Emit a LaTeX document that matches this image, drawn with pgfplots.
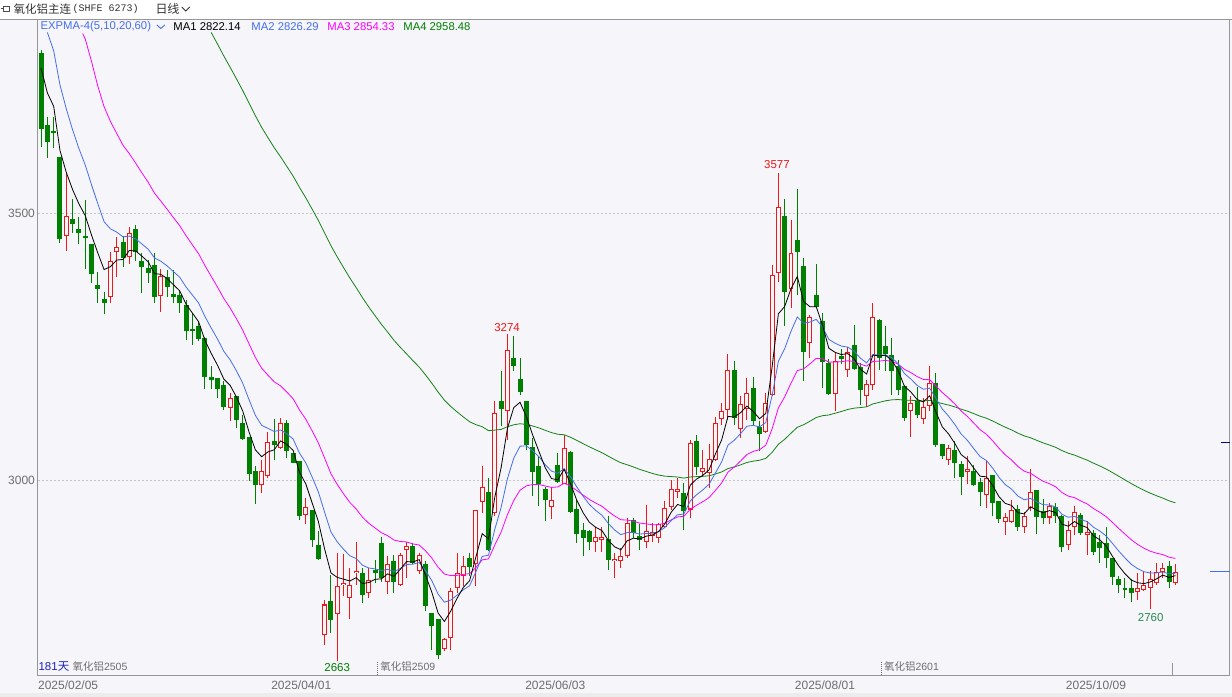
\documentclass[border=0pt]{standalone}
\usepackage{fontspec}
\setmainfont{Liberation Sans}
\newfontfamily\cjk{Noto Sans CJK SC}
\newfontfamily\mono{Liberation Mono}
\usepackage{pgfplots}
\usepackage{pgfplotstable}
\pgfplotsset{compat=1.18}
\definecolor{bg}{RGB}{245,245,250}
\definecolor{cgreen}{RGB}{0,128,0}
\definecolor{cred}{RGB}{235,25,25}
\definecolor{ma2}{RGB}{70,110,235}
\definecolor{ma3}{RGB}{255,0,255}
\definecolor{ma4}{RGB}{20,130,20}
\definecolor{axgray}{RGB}{150,150,150}
\definecolor{txtgray}{RGB}{110,110,110}
\definecolor{dkblue}{RGB}{30,30,200}
\definecolor{navyc}{RGB}{0,0,128}
\definecolor{lowgreen}{RGB}{40,140,80}

\pgfplotstableread{
i o h l c
4 3459 3576 3431 3496
11 3345 3429 3333 3412
12 3428 3456 3381 3438
14 3419 3476 3406 3465
19 3346 3396 3317 3384
30 3136 3165 3111 3155
35 2991 3039 2976 3019
36 3009 3092 3005 3072
38 3061 3117 3059 3108
42 2936 2968 2919 2951
45 2710 2777 2693 2768
47 2750 2865 2663 2802
48 2805 2863 2783 2809
49 2780 2836 2740 2805
50 2827 2886 2805 2831
52 2790 2836 2780 2813
55 2810 2858 2787 2844
57 2804 2864 2802 2861
58 2871 2886 2818 2877
60 2830 2865 2825 2861
64 2685 2706 2680 2704
65 2705 2799 2683 2794
66 2799 2865 2790 2827
67 2821 2858 2802 2841
69 2843 2946 2802 2946
70 2960 3028 2940 2988
72 2940 3149 2933 3127
74 3130 3274 3077 3245
81 2951 2989 2929 2963
83 2993 3086 2993 3061
88 2886 2914 2867 2894
89 2889 2914 2867 2894
91 2849 2865 2818 2853
92 2850 2874 2836 2859
93 2858 2930 2856 2921
96 2886 2955 2874 2906
97 2897 2920 2885 2903
98 2893 2921 2883 2918
99 2914 2961 2912 2949
100 2951 3002 2946 2984
101 2979 3005 2968 2984
103 2946 3077 2930 3071
105 3017 3058 3008 3024
106 3014 3069 2986 3041
107 3039 3120 3036 3109
108 3116 3146 3105 3130
109 3133 3238 3114 3208
111 3097 3158 3080 3144
112 3134 3192 3114 3164
115 3092 3164 3089 3146
116 3161 3404 3158 3386
117 3389 3577 3373 3513
119 3359 3489 3323 3426
122 3258 3311 3230 3307
126 3162 3242 3130 3225
128 3208 3251 3195 3242
131 3158 3189 3139 3181
132 3180 3333 3170 3307
138 3130 3158 3082 3146
140 3116 3155 3107 3138
141 3140 3214 3130 3183
144 3039 3067 3030 3061
147 3016 3046 2993 3022
150 2974 3036 2949 3005
153 2922 2940 2899 2932
154 2922 2963 2921 2946
156 2914 2942 2902 2933
157 2949 3021 2943 2978
160 2931 2958 2919 2952
163 2880 2924 2871 2907
164 2914 2953 2899 2941
166 2899 2924 2860 2904
174 2792 2827 2777 2799
175 2795 2830 2794 2804
176 2799 2830 2760 2816
177 2808 2845 2805 2828
178 2828 2845 2817 2837
180 2808 2843 2805 2829
}\redtbl

\pgfplotstableread{
i o h l c
0 3801 3807 3626 3659
1 3667 3682 3604 3634
2 3656 3682 3623 3651
3 3606 3606 3445 3453
5 3490 3528 3464 3481
6 3472 3495 3444 3465
7 3459 3526 3396 3454
8 3444 3444 3371 3387
9 3366 3392 3333 3360
10 3340 3354 3313 3333
13 3448 3458 3401 3417
15 3472 3479 3411 3429
16 3411 3426 3351 3401
17 3399 3414 3370 3389
18 3404 3426 3333 3344
20 3381 3395 3345 3363
21 3350 3395 3333 3344
22 3348 3358 3314 3333
23 3330 3339 3264 3281
24 3284 3314 3255 3281
25 3290 3298 3261 3265
26 3267 3270 3172 3194
27 3195 3214 3172 3189
28 3192 3192 3155 3172
29 3180 3186 3133 3139
31 3158 3158 3099 3113
32 3109 3124 3077 3078
33 3082 3082 2999 3013
34 3019 3027 2957 2991
37 3075 3115 3039 3066
39 3109 3114 3042 3055
40 3051 3051 3033 3034
41 3036 3036 2926 2934
43 2946 2946 2876 2888
44 2880 2905 2852 2853
46 2774 2824 2715 2738
51 2827 2836 2771 2785
53 2833 2851 2808 2827
54 2883 2895 2810 2818
56 2850 2861 2790 2811
59 2877 2883 2843 2846
61 2843 2849 2755 2765
62 2752 2752 2683 2727
63 2740 2740 2666 2674
68 2855 2865 2821 2838
71 2979 3005 2868 2871
73 3149 3206 3102 3134
75 3230 3272 3205 3215
76 3190 3230 3161 3167
77 3149 3149 3058 3067
78 3064 3080 2971 3017
79 3028 3046 2952 2993
80 2985 2989 2924 2963
82 3030 3051 2996 2997
84 3053 3055 2940 2942
85 2947 2964 2883 2901
86 2908 2921 2858 2893
87 2905 2908 2871 2886
90 2890 2933 2833 2852
94 2926 2930 2893 2902
95 2896 2918 2871 2888
102 2976 2996 2908 2944
104 3075 3086 3011 3026
110 3208 3225 3105 3117
113 3174 3194 3105 3111
114 3101 3111 3055 3088
118 3496 3528 3289 3354
120 3451 3546 3348 3428
121 3403 3417 3186 3242
123 3348 3406 3325 3326
124 3300 3314 3174 3222
125 3220 3228 3161 3162
127 3233 3246 3218 3228
129 3255 3292 3208 3210
130 3213 3220 3142 3170
133 3302 3303 3208 3230
134 3253 3289 3205 3238
135 3236 3267 3161 3205
136 3214 3227 3161 3170
137 3177 3180 3111 3117
139 3150 3176 3117 3124
142 3183 3202 3064 3067
143 3069 3069 3040 3046
145 3058 3074 3005 3034
146 3032 3036 2974 3007
148 3019 3030 2990 2991
149 2997 3005 2953 2978
151 3010 3011 2933 2959
152 2961 2961 2921 2928
155 2947 2955 2905 2913
158 2982 2983 2901 2932
159 2943 2965 2918 2930
161 2950 2958 2921 2933
162 2933 2936 2866 2875
165 2935 2940 2899 2902
167 2902 2908 2861 2866
168 2886 2899 2846 2874
169 2883 2914 2836 2855
170 2855 2855 2805 2820
171 2816 2821 2790 2804
172 2799 2818 2780 2796
173 2799 2815 2772 2790
179 2841 2850 2799 2810
}\greentbl

\begin{document}
\begin{tikzpicture}
\begin{scope}[x=1pt,y=1pt]
\path[use as bounding box] (0,0) rectangle (1232,697);
\fill[bg] (0,0) rectangle (1232,697);
\fill[white] (0,678) rectangle (1232,697);
\fill[gray!15] (0,0) rectangle (1232,4);
\end{scope}
\begin{axis}[
  at={(37.3pt,21pt)}, anchor=south west,
  width=1192.7pt, height=657pt, scale only axis,
  xmin=-0.54, xmax=188.6, ymin=2634.8, ymax=3865.2,
  axis line style={draw=axgray, line width=0.8pt},
  major tick length=0pt,
  ytick={3000,3500}, yticklabels={3000,3500},
  xtick={-0.5,36.5,76.8,119.6,162.6},
  xticklabels={2025/02/05,2025/04/01,2025/06/03,2025/08/01,2025/10/09},
  ymajorgrids,
  grid style={draw=gray!45, dash pattern=on 2pt off 2pt, line width=0.8pt},
  tick label style={font=\fontsize{12}{14}\selectfont, text=txtgray},
  xticklabel style={anchor=north west, inner sep=0pt, yshift=-5.5pt},
  yticklabel style={anchor=east, inner sep=0pt, xshift=-2.6pt},
  axis background/.style={fill=bg},
]
% green wicks and bodies
\addplot[draw=none, mark=none, forget plot,
  error bars/.cd, y dir=plus, y explicit, error mark=none,
  error bar style={draw=cgreen, line width=1pt}]
  table[x=i, y=l, y error plus expr=\thisrow{h}-\thisrow{l}] {\greentbl};
\addplot[draw=none, mark=none, forget plot,
  error bars/.cd, y dir=plus, y explicit, error mark=none,
  error bar style={draw=cgreen, line width=5pt}]
  table[x=i, y=c, y error plus expr=\thisrow{o}-\thisrow{c}] {\greentbl};
% red wicks and hollow bodies
\addplot[draw=none, mark=none, forget plot,
  error bars/.cd, y dir=plus, y explicit, error mark=none,
  error bar style={draw=cred, line width=1pt}]
  table[x=i, y=l, y error plus expr=\thisrow{h}-\thisrow{l}] {\redtbl};
\addplot[draw=none, mark=none, forget plot,
  error bars/.cd, y dir=plus, y explicit, error mark=none,
  error bar style={draw=cred, line width=5pt}]
  table[x=i, y=o, y error plus expr=\thisrow{c}-\thisrow{o}] {\redtbl};
\addplot[draw=none, mark=none, forget plot,
  error bars/.cd, y dir=plus, y explicit, error mark=none,
  error bar style={draw=bg, line width=3pt}]
  table[x=i, y expr=\thisrow{o}+1.9, y error plus expr=\thisrow{c}-\thisrow{o}-3.8] {\redtbl};

% MA4 (EXPMA 60)
\addplot[ma4, line width=0.8pt, mark=none] coordinates {
(27,3840) (28,3818.1) (29,3795.8) (30,3774.8) (31,3753.1) (32,3731.0) (33,3707.5) (34,3684.0) (35,3662.2) (36,3642.8)
(37,3623.9) (38,3607.0) (39,3588.9) (40,3570.7) (41,3549.8) (42,3530.2) (43,3509.1) (44,3487.6) (45,3464.0) (46,3440.2)
(47,3419.3) (48,3399.3) (49,3379.8) (50,3361.8) (51,3342.9) (52,3325.5) (53,3309.2) (54,3293.1) (55,3278.4) (56,3263.1)
(57,3249.9) (58,3237.7) (59,3224.9) (60,3213.0) (61,3198.3) (62,3182.8) (63,3166.1) (64,3150.9) (65,3139.2) (66,3129.0)
(67,3119.6) (68,3110.4) (69,3105.0) (70,3101.2) (71,3093.7) (72,3094.8) (73,3096.1) (74,3101.0) (75,3104.7) (76,3106.7)
(77,3105.4) (78,3102.5) (79,3098.9) (80,3094.4) (81,3090.1) (82,3087.0) (83,3086.1) (84,3081.4) (85,3075.5) (86,3069.5)
(87,3063.5) (88,3057.9) (89,3052.5) (90,3045.9) (91,3039.5) (92,3033.6) (93,3029.9) (94,3025.7) (95,3021.2) (96,3017.4)
(97,3013.6) (98,3010.5) (99,3008.5) (100,3007.7) (101,3006.9) (102,3004.8) (103,3007.0) (104,3007.6) (105,3008.1) (106,3009.2)
(107,3012.5) (108,3016.4) (109,3022.7) (110,3025.8) (111,3029.7) (112,3034.1) (113,3036.6) (114,3038.3) (115,3041.8) (116,3053.1)
(117,3068.2) (118,3077.6) (119,3089.0) (120,3100.1) (121,3104.8) (122,3111.4) (123,3118.4) (124,3121.8) (125,3123.1) (126,3126.4)
(127,3129.7) (128,3133.4) (129,3135.9) (130,3137.0) (131,3138.4) (132,3143.9) (133,3146.7) (134,3149.7) (135,3151.5) (136,3152.1)
(137,3150.9) (138,3150.7) (139,3149.8) (140,3149.4) (141,3150.5) (142,3147.8) (143,3144.5) (144,3141.8) (145,3138.3) (146,3134.0)
(147,3130.3) (148,3125.7) (149,3120.9) (150,3117.1) (151,3111.9) (152,3105.9) (153,3100.2) (154,3095.1) (155,3089.1) (156,3084.0)
(157,3080.5) (158,3075.6) (159,3070.8) (160,3066.9) (161,3062.5) (162,3056.4) (163,3051.5) (164,3047.9) (165,3043.1) (166,3038.5)
(167,3032.8) (168,3027.6) (169,3021.9) (170,3015.3) (171,3008.4) (172,3001.4) (173,2994.5) (174,2988.1) (175,2982.1) (176,2976.7)
(177,2971.8) (178,2967.4) (179,2962.2) (180,2958.5)
};
% MA3 (EXPMA 20)
\addplot[ma3, line width=0.8pt, mark=none] coordinates {
(6.6,3838) (7,3828.0) (8,3786.0) (9,3739.6) (10,3700.8) (11,3673.3) (12,3650.8) (13,3628.5) (14,3612.9) (15,3595.3)
(16,3576.8) (17,3559.2) (18,3538.7) (19,3524.0) (20,3508.7) (21,3493.0) (22,3477.8) (23,3459.1) (24,3442.1) (25,3425.2)
(26,3403.2) (27,3382.8) (28,3362.7) (29,3341.4) (30,3323.6) (31,3303.5) (32,3282.0) (33,3256.4) (34,3231.1) (35,3210.9)
(36,3197.7) (37,3185.2) (38,3177.8) (39,3166.1) (40,3153.5) (41,3132.6) (42,3115.3) (43,3093.7) (44,3070.8) (45,3042.0)
(46,3013.0) (47,2992.9) (48,2975.4) (49,2959.2) (50,2947.0) (51,2931.6) (52,2920.3) (53,2911.4) (54,2902.5) (55,2896.9)
(56,2888.7) (57,2886.1) (58,2885.2) (59,2881.5) (60,2879.5) (61,2868.6) (62,2855.1) (63,2837.9) (64,2825.1) (65,2822.1)
(66,2822.6) (67,2824.4) (68,2825.7) (69,2837.2) (70,2851.6) (71,2853.4) (72,2879.5) (73,2903.7) (74,2936.2) (75,2962.8)
(76,2982.2) (77,2990.3) (78,2992.8) (79,2992.8) (80,2990.0) (81,2987.4) (82,2988.3) (83,2995.2) (84,2990.1) (85,2981.6)
(86,2973.2) (87,2964.9) (88,2958.1) (89,2952.0) (90,2942.5) (91,2933.9) (92,2926.8) (93,2926.2) (94,2923.9) (95,2920.5)
(96,2919.1) (97,2917.6) (98,2917.6) (99,2920.6) (100,2926.6) (101,2932.1) (102,2933.2) (103,2946.3) (104,2953.9) (105,2960.6)
(106,2968.3) (107,2981.7) (108,2995.8) (109,3016.0) (110,3025.6) (111,3036.9) (112,3049.0) (113,3054.9) (114,3058.1) (115,3066.5)
(116,3096.9) (117,3136.5) (118,3157.2) (119,3182.8) (120,3206.2) (121,3209.6) (122,3218.9) (123,3229.1) (124,3228.4) (125,3222.1)
(126,3222.4) (127,3222.9) (128,3224.7) (129,3223.3) (130,3218.2) (131,3214.7) (132,3223.5) (133,3224.1) (134,3225.4) (135,3223.5)
(136,3218.4) (137,3208.7) (138,3202.7) (139,3195.2) (140,3189.8) (141,3189.2) (142,3177.6) (143,3165.1) (144,3155.2) (145,3143.7)
(146,3130.7) (147,3120.3) (148,3108.0) (149,3095.6) (150,3087.0) (151,3074.8) (152,3060.8) (153,3048.5) (154,3038.7) (155,3026.7)
(156,3017.8) (157,3014.0) (158,3006.2) (159,2998.9) (160,2994.4) (161,2988.6) (162,2977.8) (163,2971.1) (164,2968.2) (165,2961.9)
(166,2956.4) (167,2947.8) (168,2940.8) (169,2932.6) (170,2921.9) (171,2910.7) (172,2899.8) (173,2889.3) (174,2880.7) (175,2873.4)
(176,2867.9) (177,2864.1) (178,2861.5) (179,2856.6) (180,2854.3)
};
% MA2 (EXPMA 10)
\addplot[ma2, line width=0.8pt, mark=none] coordinates {
(1,3840) (2,3805.6) (3,3741.5) (4,3696.9) (5,3657.6) (6,3622.6) (7,3591.9) (8,3554.6) (9,3519.2) (10,3485.3)
(11,3472.0) (12,3465.8) (13,3456.9) (14,3458.4) (15,3453.1) (16,3443.6) (17,3433.7) (18,3417.4) (19,3411.3) (20,3402.5)
(21,3391.9) (22,3381.2) (23,3363.0) (24,3348.1) (25,3333.0) (26,3307.7) (27,3286.1) (28,3265.4) (29,3242.4) (30,3226.5)
(31,3205.9) (32,3182.6) (33,3151.8) (34,3122.6) (35,3103.8) (36,3098.0) (37,3092.2) (38,3095.1) (39,3087.8) (40,3078.0)
(41,3051.8) (42,3033.5) (43,3007.0) (44,2979.0) (45,2940.6) (46,2903.8) (47,2885.3) (48,2871.4) (49,2859.3) (50,2854.2)
(51,2841.6) (52,2836.4) (53,2834.7) (54,2831.7) (55,2833.9) (56,2829.7) (57,2835.4) (58,2843.0) (59,2843.5) (60,2846.7)
(61,2831.8) (62,2812.7) (63,2787.5) (64,2772.3) (65,2776.2) (66,2785.4) (67,2795.5) (68,2803.2) (69,2829.2) (70,2858.1)
(71,2860.4) (72,2908.9) (73,2949.8) (74,3003.5) (75,3042.0) (76,3064.7) (77,3065.1) (78,3056.4) (79,3044.9) (80,3030.0)
(81,3017.8) (82,3014.0) (83,3022.5) (84,3007.9) (85,2988.5) (86,2971.1) (87,2955.6) (88,2944.4) (89,2935.2) (90,2920.1)
(91,2907.7) (92,2898.8) (93,2902.8) (94,2902.7) (95,2900.0) (96,2901.1) (97,2901.4) (98,2904.4) (99,2912.5) (100,2925.5)
(101,2936.1) (102,2937.5) (103,2961.8) (104,2973.5) (105,2982.7) (106,2993.3) (107,3014.3) (108,3035.3) (109,3066.7) (110,3075.8)
(111,3088.2) (112,3102.0) (113,3103.6) (114,3100.8) (115,3109.0) (116,3159.4) (117,3223.7) (118,3247.4) (119,3279.9) (120,3306.8)
(121,3295.0) (122,3297.2) (123,3302.4) (124,3287.8) (125,3264.9) (126,3257.6) (127,3252.2) (128,3250.3) (129,3243.0) (130,3229.7)
(131,3220.8) (132,3236.5) (133,3235.3) (134,3235.8) (135,3230.2) (136,3219.3) (137,3200.7) (138,3190.8) (139,3178.7) (140,3171.3)
(141,3173.4) (142,3154.1) (143,3134.4) (144,3121.1) (145,3105.3) (146,3087.4) (147,3075.5) (148,3060.1) (149,3045.2) (150,3037.9)
(151,3023.6) (152,3006.2) (153,2992.7) (154,2984.2) (155,2971.3) (156,2964.3) (157,2966.8) (158,2960.5) (159,2955.0) (160,2954.5)
(161,2950.6) (162,2936.9) (163,2931.5) (164,2933.2) (165,2927.5) (166,2923.2) (167,2912.8) (168,2905.7) (169,2896.5) (170,2882.6)
(171,2868.3) (172,2855.2) (173,2843.3) (174,2835.2) (175,2829.5) (176,2827.0) (177,2827.2) (178,2829.0) (179,2825.5) (180,2826.3)
};
% MA1 (EXPMA 5)
\addplot[black, line width=0.8pt, mark=none] coordinates {
(0,3773) (1,3726.7) (2,3701.5) (3,3618.7) (4,3577.8) (5,3545.5) (6,3518.7) (7,3497.1) (8,3460.4) (9,3426.9)
(10,3395.6) (11,3401.1) (12,3413.4) (13,3414.6) (14,3431.4) (15,3430.6) (16,3420.7) (17,3410.1) (18,3388.1) (19,3386.7)
(20,3378.8) (21,3367.2) (22,3355.8) (23,3330.9) (24,3314.3) (25,3297.9) (26,3263.3) (27,3238.5) (28,3216.3) (29,3190.5)
(30,3178.7) (31,3156.8) (32,3130.5) (33,3091.3) (34,3057.9) (35,3044.9) (36,3053.9) (37,3057.9) (38,3074.6) (39,3068.1)
(40,3056.7) (41,3015.8) (42,2994.2) (43,2958.8) (44,2923.5) (45,2871.7) (46,2827.1) (47,2818.7) (48,2815.5) (49,2812.0)
(50,2818.3) (51,2807.2) (52,2809.1) (53,2815.1) (54,2816.1) (55,2825.4) (56,2820.6) (57,2834.1) (58,2848.4) (59,2847.6)
(60,2852.1) (61,2823.1) (62,2791.1) (63,2752.1) (64,2736.1) (65,2755.4) (66,2779.3) (67,2799.9) (68,2812.6) (69,2857.1)
(70,2900.7) (71,2890.8) (72,2969.5) (73,3024.3) (74,3097.9) (75,3136.9) (76,3146.9) (77,3120.3) (78,3085.9) (79,3054.9)
(80,3024.3) (81,3003.9) (82,3001.6) (83,3021.4) (84,2994.9) (85,2963.6) (86,2940.1) (87,2922.1) (88,2912.7) (89,2906.5)
(90,2888.3) (91,2876.2) (92,2870.5) (93,2887.3) (94,2892.2) (95,2890.8) (96,2895.9) (97,2898.3) (98,2904.9) (99,2919.6)
(100,2941.1) (101,2955.4) (102,2951.6) (103,2991.4) (104,3002.9) (105,3009.9) (106,3020.3) (107,3049.9) (108,3076.6) (109,3120.4)
(110,3119.3) (111,3127.5) (112,3139.7) (113,3130.1) (114,3116.1) (115,3126.1) (116,3212.7) (117,3312.8) (118,3326.5) (119,3359.7)
(120,3382.5) (121,3335.7) (122,3326.1) (123,3326.1) (124,3291.4) (125,3248.3) (126,3240.5) (127,3236.3) (128,3238.2) (129,3228.8)
(130,3209.2) (131,3199.8) (132,3235.5) (133,3233.7) (134,3235.1) (135,3225.1) (136,3206.7) (137,3176.8) (138,3166.5) (139,3152.3)
(140,3147.5) (141,3159.3) (142,3128.5) (143,3101.0) (144,3087.7) (145,3069.8) (146,3048.9) (147,3039.9) (148,3023.6) (149,3008.4)
(150,3007.3) (151,2991.2) (152,2970.1) (153,2957.4) (154,2953.6) (155,2940.1) (156,2937.7) (157,2951.1) (158,2944.7) (159,2939.8)
(160,2943.9) (161,2940.3) (162,2918.5) (163,2914.7) (164,2923.5) (165,2916.3) (166,2912.2) (167,2896.8) (168,2889.2) (169,2877.8)
(170,2858.5) (171,2840.3) (172,2825.5) (173,2813.7) (174,2808.8) (175,2807.2) (176,2810.1) (177,2816.1) (178,2823.1) (179,2818.7)
(180,2822.1)
};
\end{axis}
\begin{scope}[x=1pt,y=1pt]
% header separator
\draw[axgray, line width=0.8pt] (0,678) -- (1232,678);
% header
\draw[black!70, line width=0.8pt] (3.5,685.5) rectangle (9.5,691);
\draw[black!70, line width=0.8pt] (1,688.2) -- (3.5,688.2);
\node[anchor=west, inner sep=0pt, text=black!80, font=\cjk\fontsize{11.5}{13}\selectfont] at (13,688) {氧化铝主连};
\node[anchor=west, inner sep=0pt, text=black!80, font=\mono\fontsize{10}{12}\selectfont] at (72,688) {(SHFE 6273)};
\node[anchor=west, inner sep=0pt, text=black!80, font=\cjk\fontsize{12}{14}\selectfont] at (155,688) {日线};
\draw[black!80, line width=0.9pt] (181.5,690) -- (185.5,686) -- (189.5,690);
% legend row
\node[anchor=west, inner sep=0pt, text=ma2, font=\fontsize{11.3}{13}\selectfont] at (40,670.5) {EXPMA-4(5,10,20,60)};
\draw[ma2, line width=0.9pt] (156.5,672) -- (160.5,668.5) -- (164.5,672);
\node[anchor=west, inner sep=0pt, text=black, font=\fontsize{11.3}{13}\selectfont] at (173,670.5) {MA1 2822.14};
\node[anchor=west, inner sep=0pt, text=ma2, font=\fontsize{11.3}{13}\selectfont] at (251,670.5) {MA2 2826.29};
\node[anchor=west, inner sep=0pt, text=ma3, font=\fontsize{11.3}{13}\selectfont] at (327,670.5) {MA3 2854.33};
\node[anchor=west, inner sep=0pt, text=cgreen, font=\fontsize{11.3}{13}\selectfont] at (403,670.5) {MA4 2958.48};
% extreme labels
\node[text=cred, font=\fontsize{11.5}{13}\selectfont, inner sep=0pt] at (507,369) {3274};
\node[text=cred, font=\fontsize{11.5}{13}\selectfont, inner sep=0pt] at (777,532) {3577};
\node[text=cgreen, font=\fontsize{11.5}{13}\selectfont, inner sep=0pt] at (337,29) {2663};
\node[text=lowgreen, font=\fontsize{11.5}{13}\selectfont, inner sep=0pt] at (1151,79) {2760};
% bottom contract markers
\node[anchor=west, inner sep=0pt, text=dkblue, font=\fontsize{11.5}{13}\selectfont] at (38,30) {181{\cjk 天}};
\node[anchor=west, inner sep=0pt, text=txtgray, font=\fontsize{10.5}{12}\selectfont] at (72,30) {{\cjk 氧化铝}2505};
\draw[txtgray, line width=0.8pt, dash pattern=on 1pt off 1pt] (377.5,22) -- (377.5,36);
\node[anchor=west, inner sep=0pt, text=txtgray, font=\fontsize{10.5}{12}\selectfont] at (380,30) {{\cjk 氧化铝}2509};
\draw[txtgray, line width=0.8pt, dash pattern=on 1pt off 1pt] (881.5,22) -- (881.5,36);
\node[anchor=west, inner sep=0pt, text=txtgray, font=\fontsize{10.5}{12}\selectfont] at (884,30) {{\cjk 氧化铝}2601};
% right edge markers
\draw[ma2, line width=1pt] (1210,125) -- (1230,125);
\draw[navyc, line width=1pt] (1221,254) -- (1230,254);
\draw[axgray, line width=0.8pt] (1172.5,21) -- (1172.5,34);
\end{scope}
\end{tikzpicture}
\end{document}
